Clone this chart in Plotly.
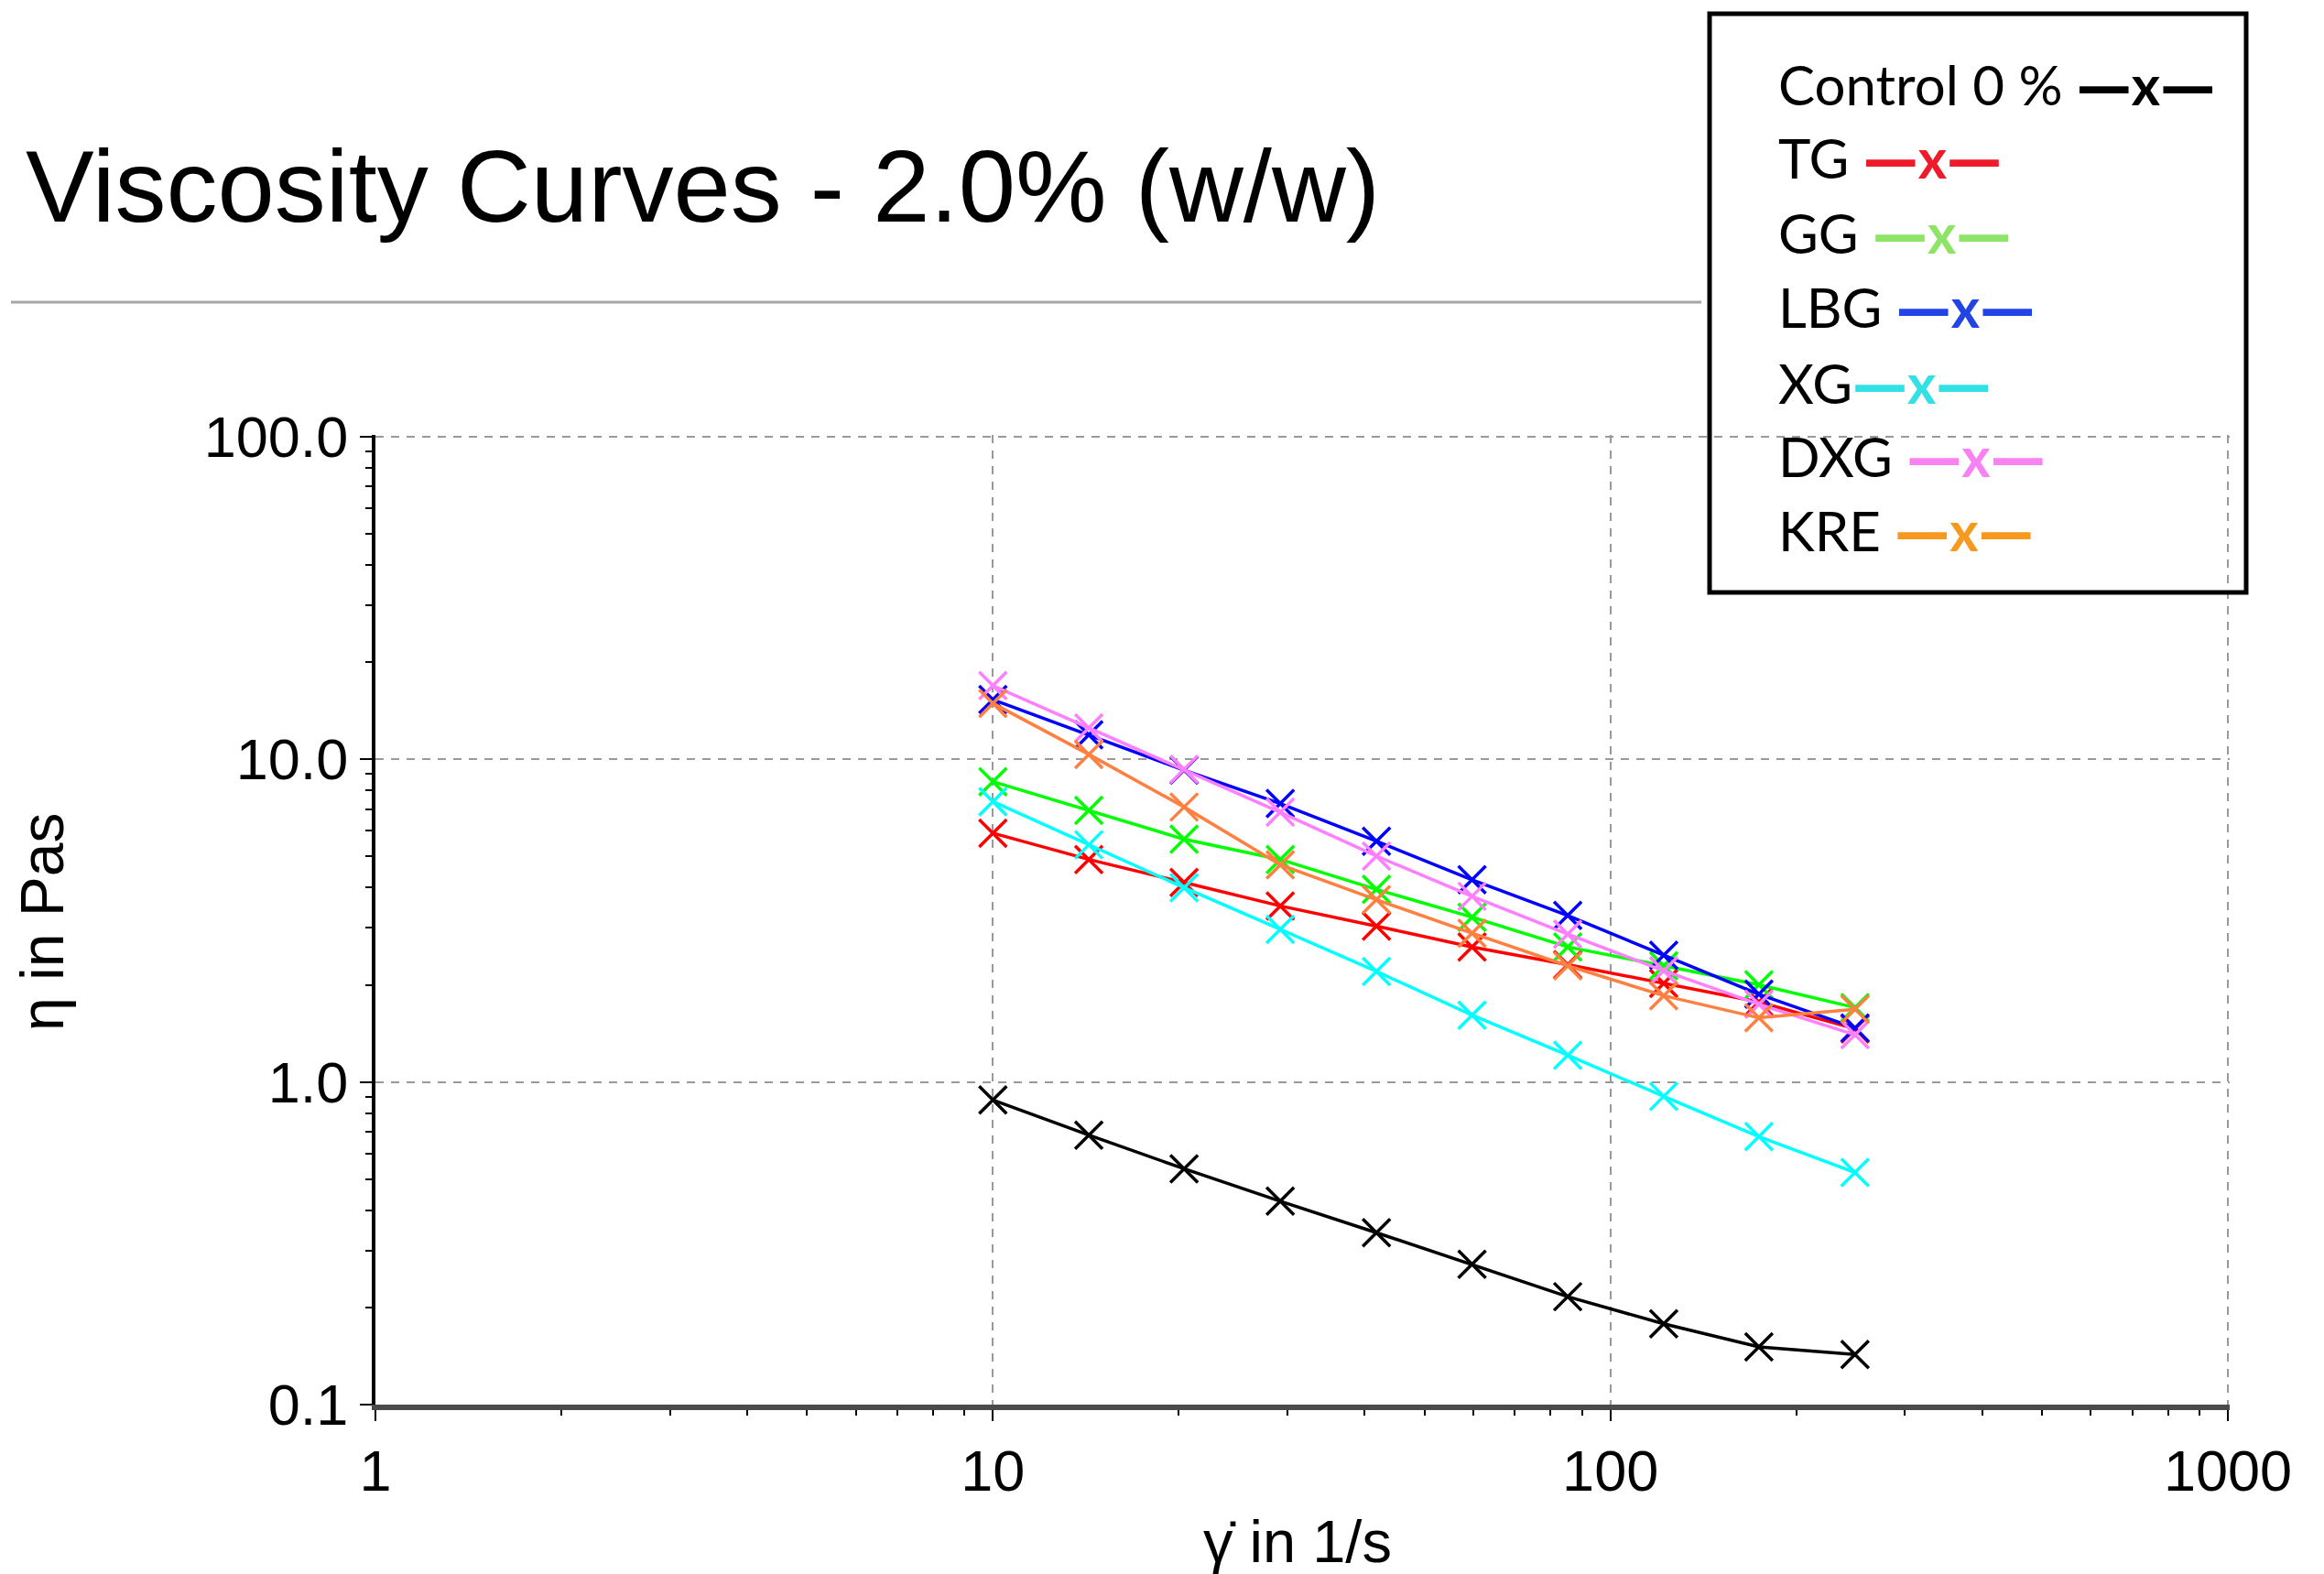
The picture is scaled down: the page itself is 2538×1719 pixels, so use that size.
import plotly.graph_objects as go

# ---- data ----
shear_rate = [10, 14.3, 20.4, 29.2, 41.8, 59.7, 85.3, 122, 174, 249]

series_names = ["Control 0 %", "TG", "GG", "LBG", "XG", "DXG", "KRE"]
control = [0.879, 0.684, 0.538, 0.427, 0.341, 0.272, 0.216, 0.178, 0.151, 0.143]
tg = [5.90, 4.89, 4.15, 3.51, 3.04, 2.62, 2.31, 2.02, 1.77, 1.46]
gg = [8.52, 6.94, 5.65, 4.89, 3.95, 3.24, 2.62, 2.29, 2.00, 1.70]
lbg = [15.3, 11.9, 9.25, 7.29, 5.57, 4.23, 3.28, 2.47, 1.87, 1.47]
xg = [7.39, 5.43, 4.00, 2.97, 2.20, 1.61, 1.21, 0.902, 0.677, 0.524]
dxg = [16.9, 12.5, 9.30, 6.85, 5.01, 3.76, 2.87, 2.21, 1.74, 1.40]
kre = [14.9, 10.35, 7.11, 4.71, 3.67, 2.89, 2.29, 1.85, 1.58, 1.68]
series_values = [control, tg, gg, lbg, xg, dxg, kre]

line_colors = ["#000000", "#ff0000", "#00ff00", "#0000ff", "#00ffff", "#ff80ff", "#ff8040"]
legend_colors = ["#000000", "#ee1c2a", "#8de466", "#2244e6", "#33e0e4", "#f882f2", "#f7981f"]
legend_gaps = [" ", " ", " ", " ", "", " ", " "]

x_tickvals = [1, 10, 100, 1000]
x_ticktext = ["1", "10", "100", "1000"]
y_tickvals = [0.1, 1, 10, 100]
y_ticktext = ["0.1", "1.0", "10.0", "100.0"]

title_text = "Viscosity Curves - 2.0% (w/w)"
x_title = "\u03b3\u0307 in 1/s"
y_title = "\u03b7 in Pas"

# ---- layout geometry (pixels) ----
W, H = 2538, 1719
L, R, T, B = 410, 103, 475, 185
pw, ph = W - L - R, H - T - B


def px(x):
    return (x - L) / pw


def py(y):
    return (H - B - y) / ph


fig = go.Figure()
for name, vals, col in zip(series_names, series_values, line_colors):
    fig.add_trace(go.Scatter(
        x=shear_rate, y=vals, name=name, mode="lines+markers",
        line=dict(color=col, width=3.5),
        marker=dict(symbol="x-thin", size=30, line=dict(color=col, width=3.5), color=col),
        showlegend=False,
    ))

axis_font = dict(family="Liberation Sans, Arial", size=63, color="black")
grid = dict(showgrid=True, gridcolor="#999999", gridwidth=2, griddash="9px,8px")

fig.update_xaxes(
    type="log", range=[0, 3.003],
    tickmode="array", tickvals=x_tickvals, ticktext=x_ticktext,
    ticks="outside", ticklen=12, tickwidth=2, tickcolor="black",
    showline=True, linecolor="#4a4a4a", linewidth=6,
    tickfont=axis_font, zeroline=False,
    minor=dict(ticks="outside", ticklen=6, tickwidth=2, tickcolor="black",
               dtick="D1", showgrid=False),
    **grid,
)
fig.update_yaxes(
    type="log", range=[-1, 2.005],
    tickmode="array", tickvals=y_tickvals, ticktext=y_ticktext,
    ticks="outside", ticklen=13, tickwidth=2, tickcolor="black",
    showline=True, linecolor="black", linewidth=4,
    tickfont=axis_font, zeroline=False,
    minor=dict(ticks="outside", ticklen=7, tickwidth=2, tickcolor="black",
               dtick="D1", showgrid=False),
    **grid,
)

annotations = [
    dict(text=title_text, xref="paper", yref="paper", x=px(26), y=py(204),
         xanchor="left", yanchor="middle", showarrow=False,
         font=dict(family="Liberation Sans, Arial", size=112, color="black")),
    dict(text=x_title, xref="paper", yref="paper", x=px(1417), y=py(1683),
         xanchor="center", yanchor="middle", showarrow=False,
         font=dict(family="Liberation Sans, Arial", size=65, color="black")),
    dict(text=y_title, xref="paper", yref="paper", x=px(46), y=py(1007),
         xanchor="center", yanchor="middle", showarrow=False, textangle=-90,
         font=dict(family="Liberation Sans, Arial", size=66, color="black")),
]

legend_rows = [92, 173, 254, 335, 418, 499, 579]
dash = "<span style='font-family:DejaVu Sans;font-weight:bold'>\u2014</span>"
for name, col, gap, yrow in zip(series_names, legend_colors, legend_gaps, legend_rows):
    annotations.append(dict(
        text=f"{name}{gap}<span style='color:{col}'>{dash}<b>x</b>{dash}</span>",
        xref="paper", yref="paper", x=px(1940), y=py(yrow),
        xanchor="left", yanchor="middle", showarrow=False,
        font=dict(family="Lato, Open Sans", size=60, color="black"),
    ))

shapes = [
    dict(type="line", xref="paper", yref="paper", x0=px(12), x1=px(1858),
         y0=py(330), y1=py(330), line=dict(color="#a6a6a6", width=3)),
    dict(type="rect", xref="paper", yref="paper", x0=px(1867), x1=px(2453),
         y0=py(15), y1=py(647), line=dict(color="black", width=5),
         fillcolor="rgba(0,0,0,0)"),
]

fig.update_layout(
    width=W, height=H,
    margin=dict(l=L, r=R, t=T, b=B, pad=0),
    paper_bgcolor="white", plot_bgcolor="white",
    annotations=annotations, shapes=shapes,
    showlegend=False,
)

fig.write_html("out.html")
